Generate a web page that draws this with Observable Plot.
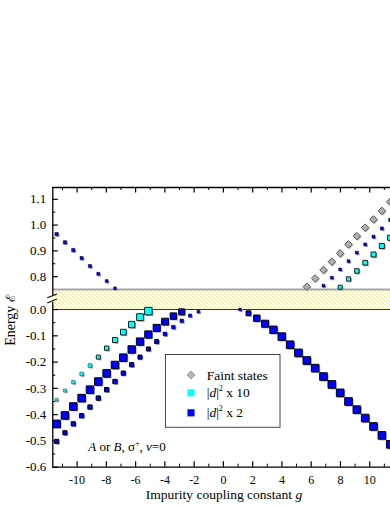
<!DOCTYPE html>
<html><head><meta charset="utf-8">
<script src="https://cdn.jsdelivr.net/npm/d3@7"></script>
<script src="https://cdn.jsdelivr.net/npm/@observablehq/plot@0.6"></script>
<style>
html,body{margin:0;padding:0;background:#fff;overflow:hidden;}
#chart{position:relative;width:390px;height:505px;}
svg{display:block;}
</style></head><body><div id="chart"></div>
<script>
// ---- data ----
const gGrid = [-11.40,-10.83,-10.26,-9.69,-9.12,-8.55,-7.98,-7.41,-6.84,-6.27,-5.70,-5.13,-4.56,-3.99,-3.42,-2.85,-2.28,-1.71,-1.14,-0.57,
  0,0.57,1.14,1.71,2.28,2.85,3.42,3.99,4.56,5.13,5.70,6.27,6.84,7.41,7.98,8.55,9.12,9.69,10.26,10.83,11.40];

// blue |d|^2 x 2, left upper branch (start g=-11.40)
const blueLeftA_E = [-0.435,-0.403,-0.369,-0.337,-0.305,-0.274,-0.243,-0.211,-0.183,-0.152,-0.122,-0.095,-0.070,-0.046,-0.025,-0.009];
const blueLeftA_I = [0.94,0.94,0.94,0.94,0.94,0.94,0.94,0.93,0.93,0.92,0.91,0.90,0.88,0.85,0.80,0.75];
// blue, left lower branch (start g=-11.40)
const blueLeftB_E = [-0.502,-0.469,-0.435,-0.404,-0.371,-0.337,-0.305,-0.274,-0.242,-0.210,-0.181,-0.150,-0.122,-0.093,-0.067,-0.043,-0.023,-0.008];
const blueLeftB_I = [0.52,0.52,0.53,0.53,0.53,0.54,0.54,0.54,0.53,0.52,0.51,0.50,0.50,0.48,0.46,0.44,0.40,0.35];
// blue, left, upper panel (start g=-11.40)
const blueLeftUp_E = [0.965,0.933,0.903,0.872,0.841,0.811,0.783,0.755];
const blueLeftUp_I = [0.42,0.42,0.42,0.40,0.40,0.38,0.36,0.34];
// cyan |d|^2 x 10, left (start g=-11.40)
const cyanLeft_E = [-0.343,-0.308,-0.276,-0.245,-0.213,-0.181,-0.147,-0.116,-0.086,-0.057,-0.029,-0.006];
const cyanLeft_I = [0.35,0.38,0.41,0.44,0.46,0.50,0.54,0.62,0.71,0.78,0.85,0.94];
// blue, right branch (start g=1.14)
const blueRight_E = [0.000,-0.014,-0.033,-0.054,-0.077,-0.103,-0.134,-0.165,-0.194,-0.223,-0.255,-0.285,-0.317,-0.350,-0.381,-0.413,-0.445,-0.479,-0.513];
const blueRight_I = [0.34,0.60,0.80,0.88,0.92,0.94,0.95,0.95,0.95,0.95,0.95,0.95,0.95,0.95,0.95,0.95,0.95,0.95,0.95];
// faint states (start g=5.70)
const faint_E = [0.761,0.793,0.826,0.858,0.890,0.925,0.957,0.990,1.022,1.055,1.090];
// blue, right, upper panel (start g=6.84)
const blueRightUp_E = [0.765,0.796,0.828,0.860,0.893,0.925,0.955,0.987,1.020];
const blueRightUp_I = [0.36,0.36,0.36,0.36,0.37,0.37,0.38,0.38,0.39];
// cyan, right, upper panel (start g=7.98)
const cyanRightUp_E = [0.759,0.791,0.822,0.854,0.886,0.919,0.951];
const cyanRightUp_I = [0.50,0.53,0.56,0.59,0.62,0.63,0.65];

const xMajor = [-10,-8,-6,-4,-2,0,2,4,6,8,10];
const xMinor = [-11,-9,-7,-5,-3,-1,1,3,5,7,9,11];
const yMajorLow = [-0.6,-0.5,-0.4,-0.3,-0.2,-0.1,0.0];
const yMinorLow = [-0.55,-0.45,-0.35,-0.25,-0.15,-0.05];
const yMajorUp = [0.8,0.9,1.0,1.1];
const yMinorUp = [0.85,0.95,1.05];

// ---- broken axis mapping ----
const BREAK_LOW = 0.0, BREAK_UP = 0.75, GAP = 0.0761, UP_K = 0.981;
const disp = v => v > 0.5 ? GAP + (v - BREAK_UP) * UP_K : v;
const undisp = d => d > GAP * 0.5 ? (d - GAP) / UP_K + BREAK_UP : d;
const yTop = disp(1.1458);
const X0 = -11.66, X1 = 11.42;

function series(start, E, I) { return E.map((e, i) => ({g: gGrid[start + i], e, s: I ? I[i] : null})); }
const idx = g => gGrid.indexOf(g);
const sA = series(idx(-11.40), blueLeftA_E, blueLeftA_I);
const sB = series(idx(-11.40), blueLeftB_E, blueLeftB_I);
const sC = series(idx(-11.40), blueLeftUp_E, blueLeftUp_I);
const sD = series(idx(-11.40), cyanLeft_E, cyanLeft_I);
const sE = series(idx(1.14), blueRight_E, blueRight_I);
const sF = series(idx(5.70), faint_E, null);
const sG = series(idx(6.84), blueRightUp_E, blueRightUp_I);
const sH = series(idx(7.98), cyanRightUp_E, cyanRightUp_I);

const W = 390, H = 505, mL = 52.3, mR = 0, mT = 187, mB = 38.3;
const plotW = W - mL - mR, plotH = H - mT - mB;
const BLUE = "#0000ff", CYAN = "#00ffff", SHADOW = "#a0a0a0";
const FONT = "'Liberation Serif', 'Times New Roman', serif";

function squares(data, fill, stroke) {
  return [
    Plot.dot(data, {x: "g", y: d => disp(d.e), r: "s", symbol: "square", fill: SHADOW, dx: 1.2, dy: 1.2}),
    Plot.dot(data, {x: "g", y: d => disp(d.e), r: "s", symbol: "square", fill, stroke, strokeWidth: d => d.s < 0.5 ? 0.5 : 1})
  ];
}

const plot = Plot.plot({
  width: W, height: H, marginLeft: mL, marginRight: mR, marginTop: mT, marginBottom: mB,
  style: {fontFamily: FONT, background: "white", color: "black"},
  x: {domain: [X0, X1], axis: null},
  y: {domain: [-0.6, yTop], axis: null},
  r: {type: "linear", domain: [0, 1], range: [0, 8 / Math.sqrt(Math.PI)]},
  marks: [
    Plot.rect([0], {x1: X0, x2: X1, y1: BREAK_LOW, y2: GAP, fill: "url(#hatch)"}),
    Plot.ruleY([GAP], {stroke: "#a6a6a6", strokeWidth: 2}),
    Plot.ruleY([BREAK_LOW], {stroke: "#333", strokeWidth: 1}),
    // frame
    Plot.ruleY([yTop], {stroke: "#000", strokeWidth: 1.3}),
    Plot.ruleY([-0.6], {stroke: "#000", strokeWidth: 1.3}),
    Plot.ruleX([{a: yTop, b: (309 - 296) / 262.8}, {a: (309 - 302) / 262.8, b: -0.6}], {x: X0, y1: "a", y2: "b", stroke: "#000", strokeWidth: 1.3}),
    // ticks (inward)
    Plot.tickX(xMajor, {x: d => d, insetTop: plotH - 5.5, stroke: "#000", strokeWidth: 1.2}),
    Plot.tickX(xMinor, {x: d => d, insetTop: plotH - 3, stroke: "#000", strokeWidth: 1}),
    Plot.tickX(xMajor, {x: d => d, insetBottom: plotH - 5.5, stroke: "#000", strokeWidth: 1.2}),
    Plot.tickX(xMinor, {x: d => d, insetBottom: plotH - 3, stroke: "#000", strokeWidth: 1}),
    Plot.tickY([...yMajorLow, ...yMajorUp].map(disp), {y: d => d, insetRight: plotW - 5.5, stroke: "#000", strokeWidth: 1.2}),
    Plot.tickY([...yMinorLow, ...yMinorUp].map(disp), {y: d => d, insetRight: plotW - 3, stroke: "#000", strokeWidth: 1}),
    // tick labels
    Plot.axisX(xMajor, {anchor: "bottom", tickSize: 0, tickPadding: 8, tickFormat: d => String(d), fontSize: 12, fontFamily: FONT, label: null}),
    Plot.axisY([...yMajorLow, ...yMajorUp].map(disp), {anchor: "left", tickSize: 0, tickPadding: 6.5,
      tickFormat: d => undisp(d).toFixed(1).replace("-0.0", "0.0"), fontSize: 13, fontFamily: FONT, label: null}),
    // data
    ...squares(sB, BLUE, "#000"),
    ...squares(sA, BLUE, "#000"),
    ...squares(sD, CYAN, "#222"),
    ...squares(sE, BLUE, "#000"),
    ...squares(sC, BLUE, "#000"),
    ...squares(sG, BLUE, "#000"),
    ...squares(sH, CYAN, "#222"),
    Plot.dot(sF, {x: "g", y: d => disp(d.e), r: 3.4, symbol: "diamond2", fill: "#c4c4c4", dx: 1, dy: 1}),
    Plot.dot(sF, {x: "g", y: d => disp(d.e), r: 3.4, symbol: "diamond2", fill: "#b0b0b0", stroke: "#555", strokeWidth: 1})
  ]
});

document.getElementById("chart").appendChild(plot);
const svg = d3.select(plot);
// hatch pattern
const defs = svg.insert("defs", ":first-child");
const pat = defs.append("pattern").attr("id", "hatch").attr("patternUnits", "userSpaceOnUse").attr("width", 4).attr("height", 4);
pat.append("rect").attr("width", 4).attr("height", 4).attr("fill", "#fff");
pat.append("path").attr("d", "M-1,-1 L5,5 M-1,3 L1,5 M3,-1 L5,1").attr("stroke", "#f0e68a").attr("stroke-width", 0.9);

// break marks
const brk = svg.append("g").attr("stroke", "#000").attr("stroke-width", 1.1);
brk.append("line").attr("x1", 47.3).attr("y1", 297.7).attr("x2", 56.9).attr("y2", 293.9);
brk.append("line").attr("x1", 47.3).attr("y1", 302.9).attr("x2", 56.9).attr("y2", 299.1);

// axis titles
const xt = svg.append("text").attr("x", 224).attr("y", 499).attr("text-anchor", "middle")
  .attr("font-family", FONT).attr("font-size", 13.5);
xt.append("tspan").text("Impurity coupling constant ");
xt.append("tspan").attr("font-style", "italic").text("g");

const yt = svg.append("text").attr("transform", "translate(15,320) rotate(-90)").attr("text-anchor", "middle")
  .attr("font-family", FONT).attr("font-size", 14);
yt.append("tspan").text("Energy ");
yt.append("tspan").attr("font-family", "'DejaVu Serif', serif").attr("font-size", 13).text("ℰ");

// annotation
const an = svg.append("text").attr("x", 88.3).attr("y", 451).attr("text-anchor", "start")
  .attr("font-family", FONT).attr("font-size", 13);
an.append("tspan").attr("font-style", "italic").text("A");
an.append("tspan").text(" or ");
an.append("tspan").attr("font-style", "italic").text("B");
an.append("tspan").text(", σ");
an.append("tspan").attr("font-size", 8).attr("dy", -5).text("+");
an.append("tspan").attr("dy", 5).text(", ");
an.append("tspan").attr("font-style", "italic").text("ν");
an.append("tspan").text("=0");

// legend
const lg = svg.append("g").attr("font-family", FONT).attr("font-size", 13.5).attr("text-anchor", "start");
lg.append("rect").attr("x", 165.5).attr("y", 354.5).attr("width", 114.5).attr("height", 72.8)
  .attr("fill", "#fff").attr("stroke", "#444").attr("stroke-width", 1);
lg.append("path").attr("transform", "translate(191,375)").attr("d", d3.symbol(d3.symbolDiamond2, 40)())
  .attr("fill", "#b5b5b5").attr("stroke", "#999").attr("stroke-width", 1);
lg.append("rect").attr("x", 187.5).attr("y", 389.2).attr("width", 7).attr("height", 7).attr("fill", CYAN).attr("stroke", "#9ee").attr("stroke-width", 0.5);
lg.append("rect").attr("x", 187.5).attr("y", 409.2).attr("width", 7).attr("height", 7).attr("fill", BLUE).attr("stroke", "#66f").attr("stroke-width", 0.5);
lg.append("text").attr("x", 206.7).attr("y", 379.5).text("Faint states");
function dLabel(y, fac) {
  const t = lg.append("text").attr("x", 206.7).attr("y", y);
  t.append("tspan").text("|");
  t.append("tspan").attr("font-style", "italic").text("d");
  t.append("tspan").text("|");
  t.append("tspan").attr("font-size", 8).attr("dy", -6).text("2");
  t.append("tspan").attr("dy", 6).text(" x " + fac);
}
dLabel(397, 10);
dLabel(417, 2);
</script></body></html>
